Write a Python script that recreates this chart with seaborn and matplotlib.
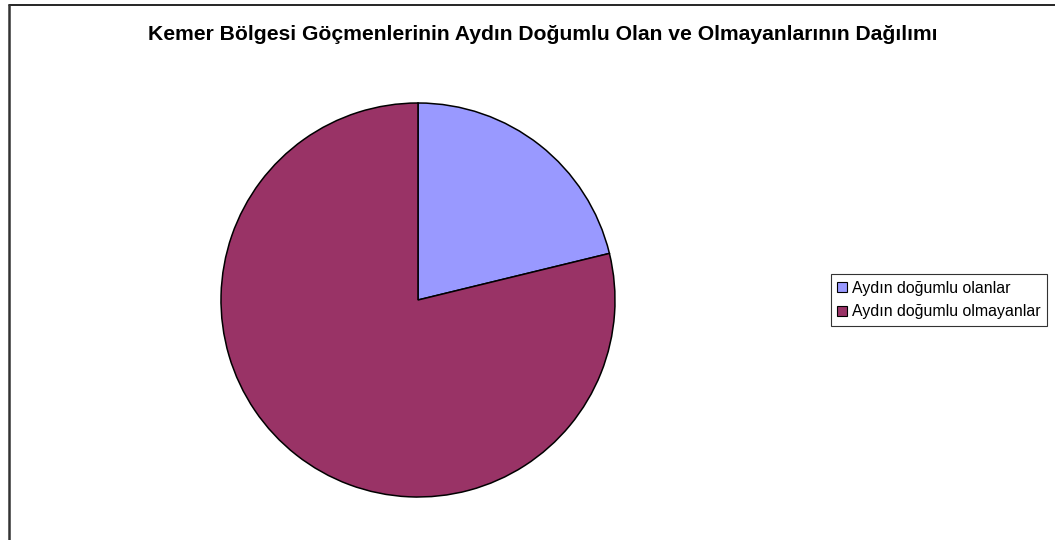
import matplotlib
matplotlib.use("Agg")
import matplotlib.pyplot as plt
from matplotlib.lines import Line2D
from matplotlib.patches import Patch
import seaborn as sns

sns.set_style("white")
plt.rcParams['font.family'] = ['Liberation Sans', 'DejaVu Sans']
plt.rcParams['text.color'] = 'black'

# data
labels = ["Aydın doğumlu olanlar", "Aydın doğumlu olmayanlar"]
shares = [21.2, 78.8]
colors = ["#9999FF", "#993366"]
title = "Kemer Bölgesi Göçmenlerinin Aydın Doğumlu Olan ve Olmayanlarının Dağılımı"

W, H = 1055, 540
fig = plt.figure(figsize=(W / 100, H / 100), dpi=100)

# pie axes, centre ~ (418, 300) px, radius ~197 px
cx, cy, r = 418, 300, 197
ax = fig.add_axes([(cx - r) / W, (H - cy - r) / H, 2 * r / W, 2 * r / H])
ax.pie(shares, colors=colors, startangle=90, counterclock=False,
       wedgeprops={'edgecolor': 'black', 'linewidth': 1.1})
ax.set_xlim(-1.0, 1.0)
ax.set_ylim(-1.0, 1.0)
ax.set_aspect('equal')
ax.axis('off')

fig.text(543 / W, 1 - 35 / H, title, ha='center', va='center',
         fontsize=15.2, fontweight='bold', color='black')

handles = [Patch(facecolor=c, edgecolor='black', linewidth=0.8) for c in colors]
leg = fig.legend(handles, labels, loc='center left',
                 bbox_to_anchor=(831 / W, 1 - 300 / H),
                 fontsize=11.4, frameon=True, fancybox=False, shadow=False,
                 handlelength=0.6, handleheight=0.6, handletextpad=0.3,
                 borderpad=0.4, labelspacing=0.55, borderaxespad=0,
                 labelcolor='black')
leg.get_frame().set_edgecolor('black')
leg.get_frame().set_linewidth(0.8)

# chart area border (only top and left visible)
fig.add_artist(Line2D([8.5 / W, 1], [1 - 5 / H, 1 - 5 / H], color='black', lw=1.2))
fig.add_artist(Line2D([8.5 / W, 8.5 / W], [0, 1 - 5 / H], color='#333333', lw=1.8))

fig.savefig("out.png", dpi=100)
